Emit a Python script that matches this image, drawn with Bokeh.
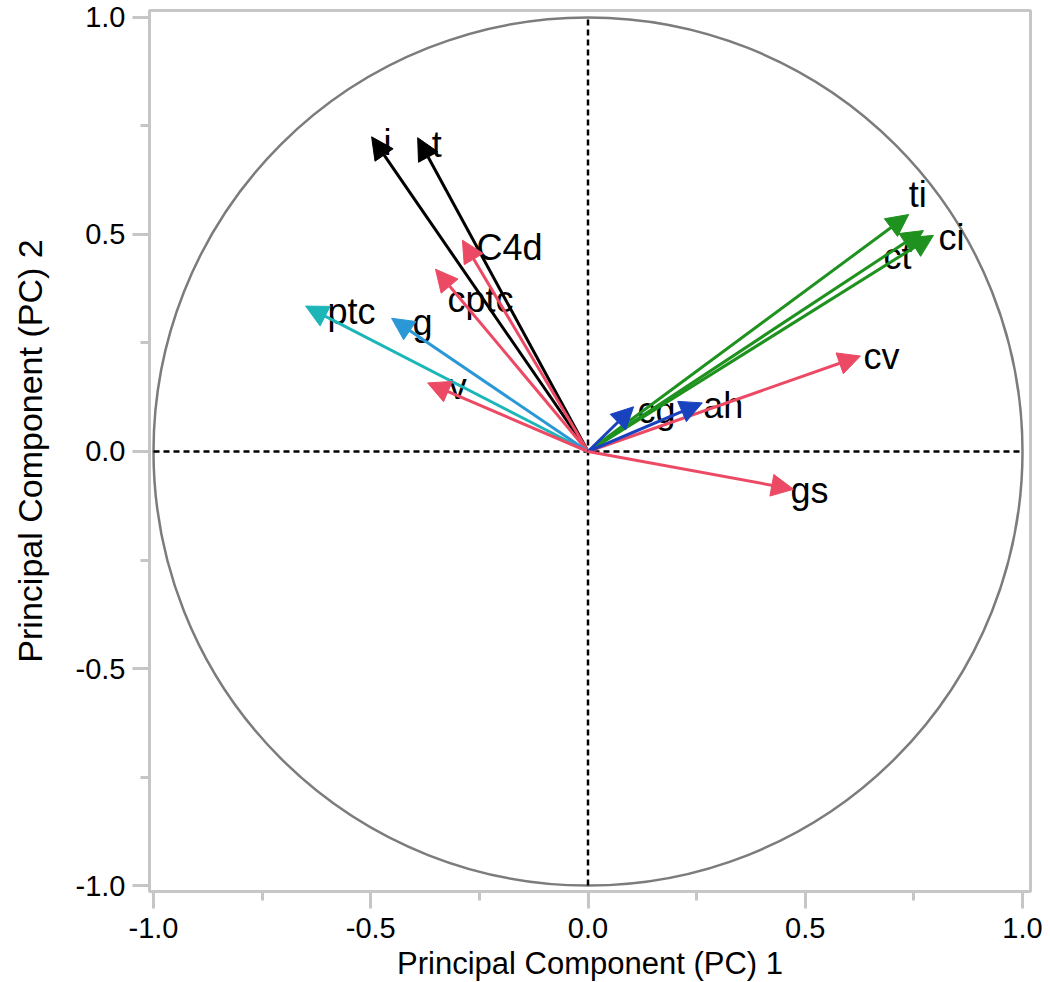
from bokeh.plotting import figure
from bokeh.models import (Arrow, NormalHead, FixedTicker, PrintfTickFormatter, Range1d)
from bokeh.core.properties import value
from bokeh.embed import file_html
from bokeh.resources import INLINE

# ---- data (loadings on PC1 / PC2) ----
labels = ["i", "t", "C4d", "cptc", "ptc", "g", "v", "ti", "ct", "ci", "cv", "ah", "cg", "gs"]
pc1 = [-0.498, -0.392, -0.289, -0.351, -0.650, -0.452, -0.369, 0.738, 0.772, 0.795, 0.627, 0.263, 0.105, 0.473]
pc2 = [0.725, 0.723, 0.487, 0.420, 0.335, 0.307, 0.158, 0.546, 0.509, 0.498, 0.220, 0.112, 0.103, -0.087]
groups = ["black", "black", "red", "red", "teal", "sky", "red", "green", "green", "green", "red", "navy", "navy", "red"]

major_ticks = [-1.0, -0.5, 0.0, 0.5, 1.0]
minor_ticks = [-0.75, -0.25, 0.25, 0.75]
circle_radius = 1.0
x_title = "Principal Component (PC) 1"
y_title = "Principal Component (PC) 2"

# ---- styles ----
palette = {"black": "#000000", "red": "#EC4A64", "teal": "#1DB6B8", "sky": "#2A98D6",
           "green": "#1E911E", "navy": "#1842BE"}
# label placement (screen px from arrow tip: right, down)
label_dx = [12, 14, 14, 12, 22, 21, 21, 0, -40, 5, 3, 1, 4, -3]
label_dy = [6, 7, 7, 30, 5, 4, 4, -20, 26, 2, 0, 3, 4, 1]

FONT = "Liberation Sans"
GRAY = "#C6C6C6"

p = figure(frame_width=881, frame_height=881, output_backend="svg", toolbar_location=None,
           x_range=Range1d(-1.0092, 1.0184), y_range=Range1d(-1.0138, 1.0161),
           min_border_left=149, min_border_top=10, min_border_right=14, min_border_bottom=88)
p.background_fill_color = "white"
p.border_fill_color = "white"
p.outline_line_color = GRAY
p.outline_line_width = 3
p.grid.visible = False

for ax in (p.xaxis[0], p.yaxis[0]):
    ax.ticker = FixedTicker(ticks=major_ticks, minor_ticks=minor_ticks)
    ax.formatter = PrintfTickFormatter(format="%.1f")
    ax.axis_line_color = GRAY
    ax.axis_line_width = 3
    ax.major_tick_line_color = GRAY
    ax.major_tick_line_width = 3
    ax.minor_tick_line_color = GRAY
    ax.minor_tick_line_width = 3
    ax.major_tick_in = 0
    ax.major_tick_out = 17
    ax.minor_tick_in = 0
    ax.minor_tick_out = 9
    ax.major_label_text_font = FONT
    ax.major_label_text_font_size = "29px"
    ax.major_label_text_color = "black"
    ax.axis_label_text_font = FONT
    ax.axis_label_text_font_style = "normal"
    ax.axis_label_text_color = "black"

p.xaxis.axis_label = x_title
p.xaxis.axis_label_text_font_size = "31px"
p.xaxis.major_label_standoff = 9
p.xaxis.axis_label_standoff = 5
p.yaxis.axis_label = y_title
p.yaxis.axis_label_text_font_size = "34px"
p.yaxis.major_label_standoff = 7
p.yaxis.axis_label_standoff = 24

# unit circle
p.ellipse(x=[0], y=[0], width=[2 * circle_radius], height=[2 * circle_radius],
          fill_color=None, line_color="#7C7C7C", line_width=2.5)
# dashed diameters
p.segment(x0=[-circle_radius, 0], y0=[0, -circle_radius], x1=[circle_radius, 0], y1=[0, circle_radius],
          line_color="black", line_width=2.5, line_dash="6 4")

# arrows
for xe, ye, g in zip(pc1, pc2, groups):
    c = palette[g]
    p.add_layout(Arrow(x_start=0, y_start=0, x_end=xe, y_end=ye, line_color=c, line_width=3,
                       end=NormalHead(size=22, fill_color=c, line_color=c, line_width=1)))

p.text(x=pc1, y=pc2, text=labels, x_offset=label_dx, y_offset=label_dy,
       text_font=value(FONT), text_font_size="36px", text_color="black",
       text_align="left", text_baseline="alphabetic")

open("out.html", "w").write(file_html(p, INLINE))
